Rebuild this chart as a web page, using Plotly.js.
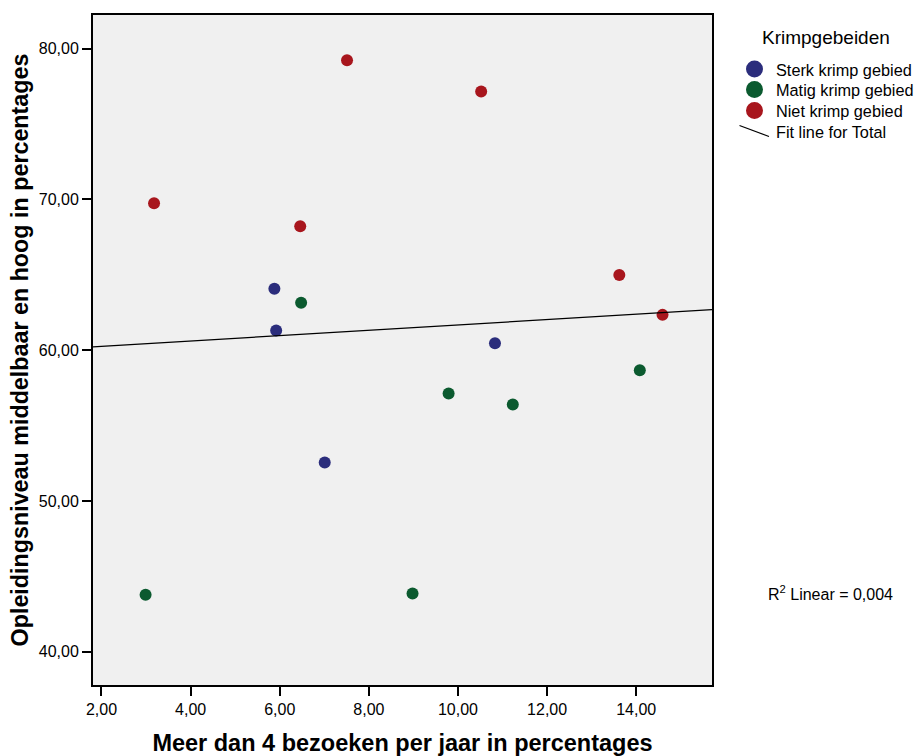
<!DOCTYPE html>
<html>
<head>
<meta charset="utf-8">
<script src="https://cdn.plot.ly/plotly-3.0.1.min.js"></script>
<style>html,body{margin:0;padding:0;background:#fff;}#chart{width:915px;height:756px;}</style>
</head>
<body>
<div id="chart"></div>
<script>
// Data
const sterkX = [5.88, 5.92, 10.83, 7.01];
const sterkY = [64.07, 61.30, 60.46, 52.55];
const matigX = [6.48, 2.99, 8.98, 9.79, 11.23, 14.08];
const matigY = [63.14, 43.77, 43.86, 57.12, 56.39, 58.67];
const nietX = [3.18, 6.46, 7.51, 10.52, 13.62, 14.59];
const nietY = [69.75, 68.22, 79.23, 77.15, 64.99, 62.34];
const groupNames = ["Sterk krimp gebied", "Matig krimp gebied", "Niet krimp gebied"];
const fitName = "Fit line for Total";
const legendTitle = "Krimpgebeiden";
const groupColors = ['#2b2d7c', '#0b5a2f', '#a8161d'];
const xRange = [1.81, 15.70];
const yRange = [37.79, 82.23];

// Linear fit for total
const allX = sterkX.concat(matigX, nietX);
const allY = sterkY.concat(matigY, nietY);
const n = allX.length;
const mx = allX.reduce((a,b)=>a+b,0)/n;
const my = allY.reduce((a,b)=>a+b,0)/n;
let sxy = 0, sxx = 0, syy = 0;
for (let i=0;i<n;i++){ sxy += (allX[i]-mx)*(allY[i]-my); sxx += (allX[i]-mx)**2; syy += (allY[i]-my)**2; }
const slope = sxy/sxx, icpt = my - slope*mx;
const r2 = (sxy*sxy)/(sxx*syy);
const fitX = xRange.slice();
const fitY = fitX.map(x => icpt + slope*x);

const font = "Liberation Sans, Arial, sans-serif";
const groupsX = [sterkX, matigX, nietX];
const groupsY = [sterkY, matigY, nietY];

const traces = [];
for (let g = 0; g < 3; g++) {
  traces.push({x: groupsX[g], y: groupsY[g], name: groupNames[g], type: 'scatter', mode: 'markers',
    marker: {color: groupColors[g], size: 12, line: {width: 0}}});
}
traces.push({x: fitX, y: fitY, name: fitName, type: 'scatter', mode: 'lines',
  line: {color: '#000', width: 1.2}});

// pixel -> paper helpers for the legend block (positions only)
const L = 93, T = 15, PW = 619, PH = 670.3;
const px = v => (v - L) / PW;
const py = v => 1 - (v - T) / PH;

const shapes = [];
const annotations = [];
const rowsY = [69, 89.5, 110.5];
for (let g = 0; g < 3; g++) {
  const r = 8.5;
  shapes.push({type: 'circle', xref: 'paper', yref: 'paper',
    x0: px(754.5 - r), x1: px(754.5 + r), y0: py(rowsY[g] + r), y1: py(rowsY[g] - r),
    fillcolor: groupColors[g], line: {width: 0}});
  annotations.push({xref: 'paper', yref: 'paper', x: px(774), y: py(rowsY[g] + 1), xanchor: 'left', yanchor: 'middle',
    text: groupNames[g], showarrow: false, font: {family: font, size: 16.3, color: '#000'}});
}
shapes.push({type: 'line', xref: 'paper', yref: 'paper',
  x0: px(739.5), y0: py(125.5), x1: px(769), y1: py(136.5), line: {color: '#000', width: 1.2}});
annotations.push({xref: 'paper', yref: 'paper', x: px(774), y: py(132.5), xanchor: 'left', yanchor: 'middle',
  text: fitName, showarrow: false, font: {family: font, size: 16.3, color: '#000'}});
annotations.push({xref: 'paper', yref: 'paper', x: px(826), y: py(38), xanchor: 'center', yanchor: 'middle',
  text: legendTitle, showarrow: false, font: {family: font, size: 19, color: '#000'}});
annotations.push({xref: 'paper', yref: 'paper', x: px(830), y: py(593), xanchor: 'center', yanchor: 'middle',
  text: 'R<sup>2</sup> Linear = ' + r2.toFixed(3).replace('.', ','),
  showarrow: false, font: {family: font, size: 16, color: '#000'}});

const layout = {
  width: 915, height: 756,
  margin: {l: 93, r: 203, t: 15, b: 71, autoexpand: false},
  paper_bgcolor: '#fff',
  plot_bgcolor: '#f0f0f0',
  separators: ',.',
  font: {family: font, size: 16, color: '#000'},
  showlegend: false,
  xaxis: {
    range: xRange, dtick: 2, tick0: 0, tickformat: '.2f',
    ticks: 'outside', ticklen: 9, tickwidth: 2, tickcolor: '#000',
    showgrid: false, zeroline: false,
    showline: true, linecolor: '#000', linewidth: 2, mirror: true,
    tickfont: {family: font, size: 16},
    title: {text: '<b>Meer dan 4 bezoeken per jaar in percentages</b>', font: {family: font, size: 23.5}, standoff: 20}
  },
  yaxis: {
    range: yRange, dtick: 10, tick0: 0, tickformat: '.2f',
    ticks: 'outside', ticklen: 9, tickwidth: 2, tickcolor: '#000',
    showgrid: false, zeroline: false,
    showline: true, linecolor: '#000', linewidth: 2, mirror: true,
    tickfont: {family: font, size: 16},
    title: {text: '<b>Opleidingsniveau middelbaar en hoog in percentages</b>', font: {family: font, size: 23.3}, standoff: 4}
  },
  shapes: shapes,
  annotations: annotations
};

Plotly.newPlot('chart', traces, layout, {displayModeBar: false, staticPlot: true});
</script>
</body>
</html>
